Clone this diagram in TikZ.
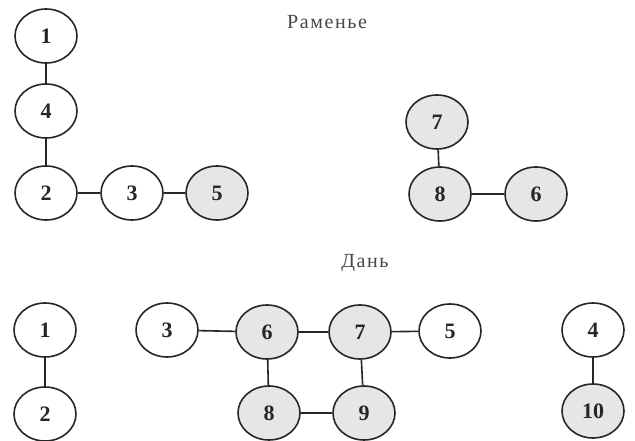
\documentclass[tikz,border=0pt]{standalone}
\usepackage{fontspec}
\setmainfont{Liberation Serif}
\usetikzlibrary{shapes.geometric}
\definecolor{ink}{HTML}{262626}
\definecolor{shade}{HTML}{E6E6E6}
\tikzset{
  vtx/.style={ellipse, draw=ink, line width=1.6pt, minimum width=62pt, minimum height=54pt, inner sep=0pt, font=\fontsize{22}{22}\selectfont\bfseries, text=ink, fill=white},
  vtxg/.style={vtx, fill=shade},
  edge/.style={draw=ink, line width=1.6pt},
  ttl/.style={font=\fontsize{20}{20}\selectfont\addfontfeatures{LetterSpace=8}, text=ink!85}
}
\begin{document}
\begin{tikzpicture}[x=1pt,y=-1pt]
\useasboundingbox[fill=white] (0,0) rectangle (635,441);
\node[ttl] (t1) at (327,22) {Раменье};
\node[ttl] (t2) at (365,263) {Дань};
% top left
\node[vtx] (a1) at (46,36) {1};
\node[vtx] (a4) at (46,111) {4};
\node[vtx] (a2) at (46,193) {2};
\node[vtx] (a3) at (132,193) {3};
\node[vtxg] (a5) at (217,193) {5};
% top right
\node[vtxg] (b7) at (437,122) {7};
\node[vtxg] (b8) at (440,194) {8};
\node[vtxg] (b6) at (536,194) {6};
% bottom
\node[vtx] (c1) at (45,330) {1};
\node[vtx] (c2) at (45,414) {2};
\node[vtx] (c3) at (167,330) {3};
\node[vtxg] (c6) at (267,332) {6};
\node[vtxg] (c7) at (360,332) {7};
\node[vtx] (c5) at (450,331) {5};
\node[vtxg] (c8) at (269,413) {8};
\node[vtxg] (c9) at (364,413) {9};
\node[vtx] (c4) at (593,330) {4};
\node[vtxg] (c10) at (593,411) {10};
% edges
\draw[edge] (a1) -- (a4);
\draw[edge] (a4) -- (a2);
\draw[edge] (a2) -- (a3);
\draw[edge] (a3) -- (a5);
\draw[edge] (b7) -- (b8);
\draw[edge] (b8) -- (b6);
\draw[edge] (c1) -- (c2);
\draw[edge] (c3) -- (c6);
\draw[edge] (c6) -- (c7);
\draw[edge] (c7) -- (c5);
\draw[edge] (c6) -- (c8);
\draw[edge] (c8) -- (c9);
\draw[edge] (c7) -- (c9);
\draw[edge] (c4) -- (c10);
\end{tikzpicture}
\end{document}
